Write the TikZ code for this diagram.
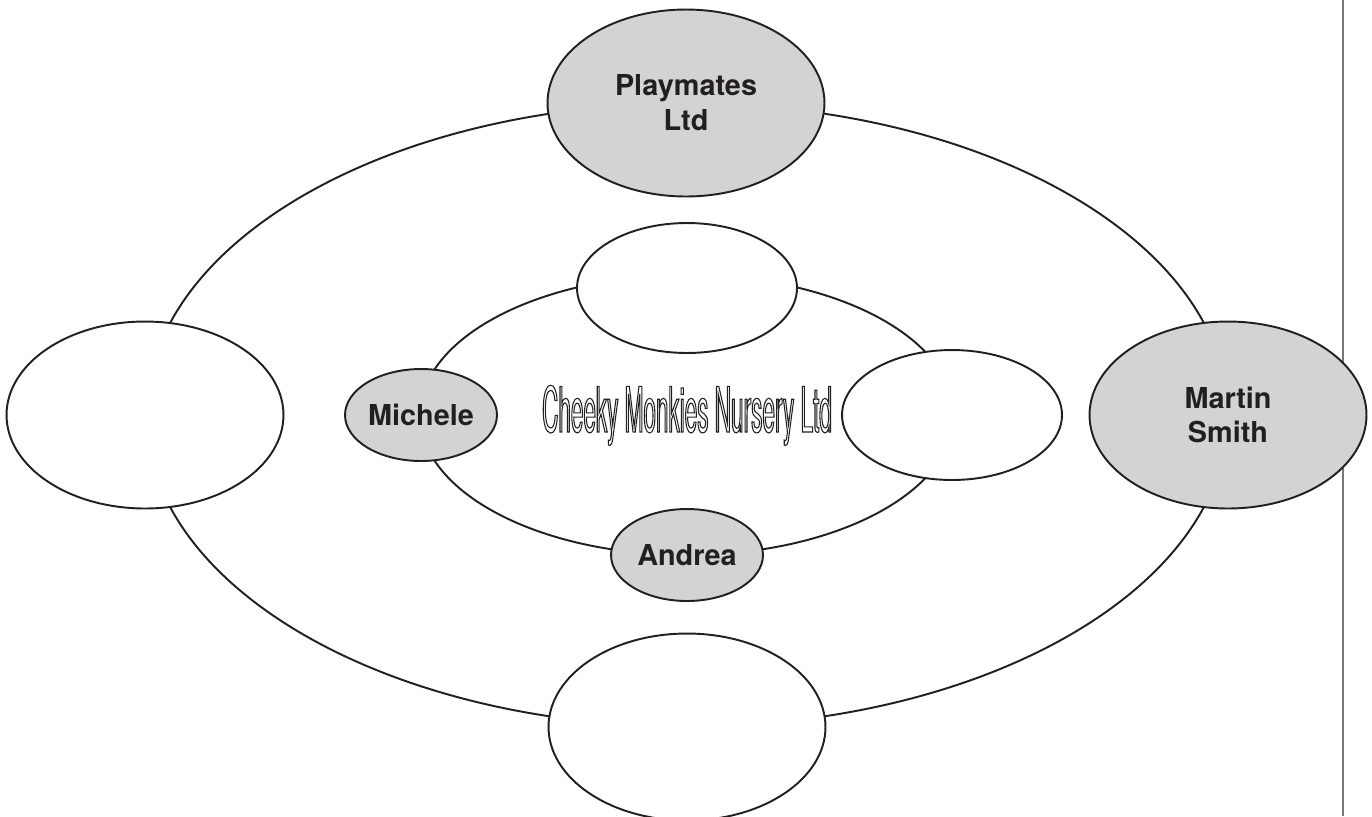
\documentclass[tikz,border=0pt]{standalone}
\usepackage{fontspec}
\setmainfont{TeX Gyre Heros}
\newfontfamily\narrowfont[FakeStretch=0.36]{TeX Gyre Heros}
\usetikzlibrary{shapes.geometric}
\definecolor{ink}{RGB}{35,31,32}
\definecolor{bubblegray}{RGB}{209,211,212}
\definecolor{rulegray}{RGB}{120,120,120}
% hollow letters: stroke the glyph outlines only
\newcommand\hollow[1]{\special{pdf:literal direct 1 Tr 0.6 w}#1\special{pdf:literal direct 0 Tr}}
\tikzset{
	ring/.style={ellipse,draw=ink,line width=1.1pt,inner sep=0pt},
	bubble/.style={ellipse,draw=ink,fill=white,line width=1.1pt,inner sep=0pt,align=center,
		text=ink,font=\fontsize{16.4}{19.8}\selectfont\bfseries},
	greybubble/.style={bubble,fill=bubblegray},
	bigsize/.style={minimum width=5.54cm,minimum height=3.74cm},
	midsize/.style={minimum width=4.4cm,minimum height=2.6cm},
	smallsize/.style={minimum width=3.04cm,minimum height=1.84cm}
}
\begin{document}
\begin{tikzpicture}[x=0.02cm,y=-0.02cm]
	\useasboundingbox (0,0) rectangle (1372,816);
	\draw [rulegray,line width=0.8pt] (1343,0) -- (1343,816);
	% the two rings
	\node [ring,minimum width=21.64cm,minimum height=12.46cm] (outerring) at (687,415) {};
	\node [ring,minimum width=10.68cm,minimum height=5.6cm] (innerring) at (687,415) {};
	% outer bubbles
	\node [greybubble,bigsize] (playmates) at (686,103) {Playmates\\Ltd};
	\node [bubble,bigsize] (leftblank) at (145,415) {};
	\node [greybubble,bigsize] (martin) at (1228,415) {Martin\\Smith};
	\node [bubble,bigsize] (bottomblank) at (687,727) {};
	% inner bubbles
	\node [bubble,midsize] (topblank) at (687,288) {};
	\node [bubble,midsize] (rightblank) at (952,415) {};
	\node [greybubble,smallsize] (michele) at (421,415) {Michele};
	\node [greybubble,smallsize] (andrea) at (687,555) {Andrea};
	\node [anchor=base,inner sep=0pt,text=ink,font=\narrowfont\fontsize{35.6}{40}\selectfont] (nursery) at (687,432) {\hollow{Cheeky Monkies Nursery Ltd}};
\end{tikzpicture}
\end{document}
